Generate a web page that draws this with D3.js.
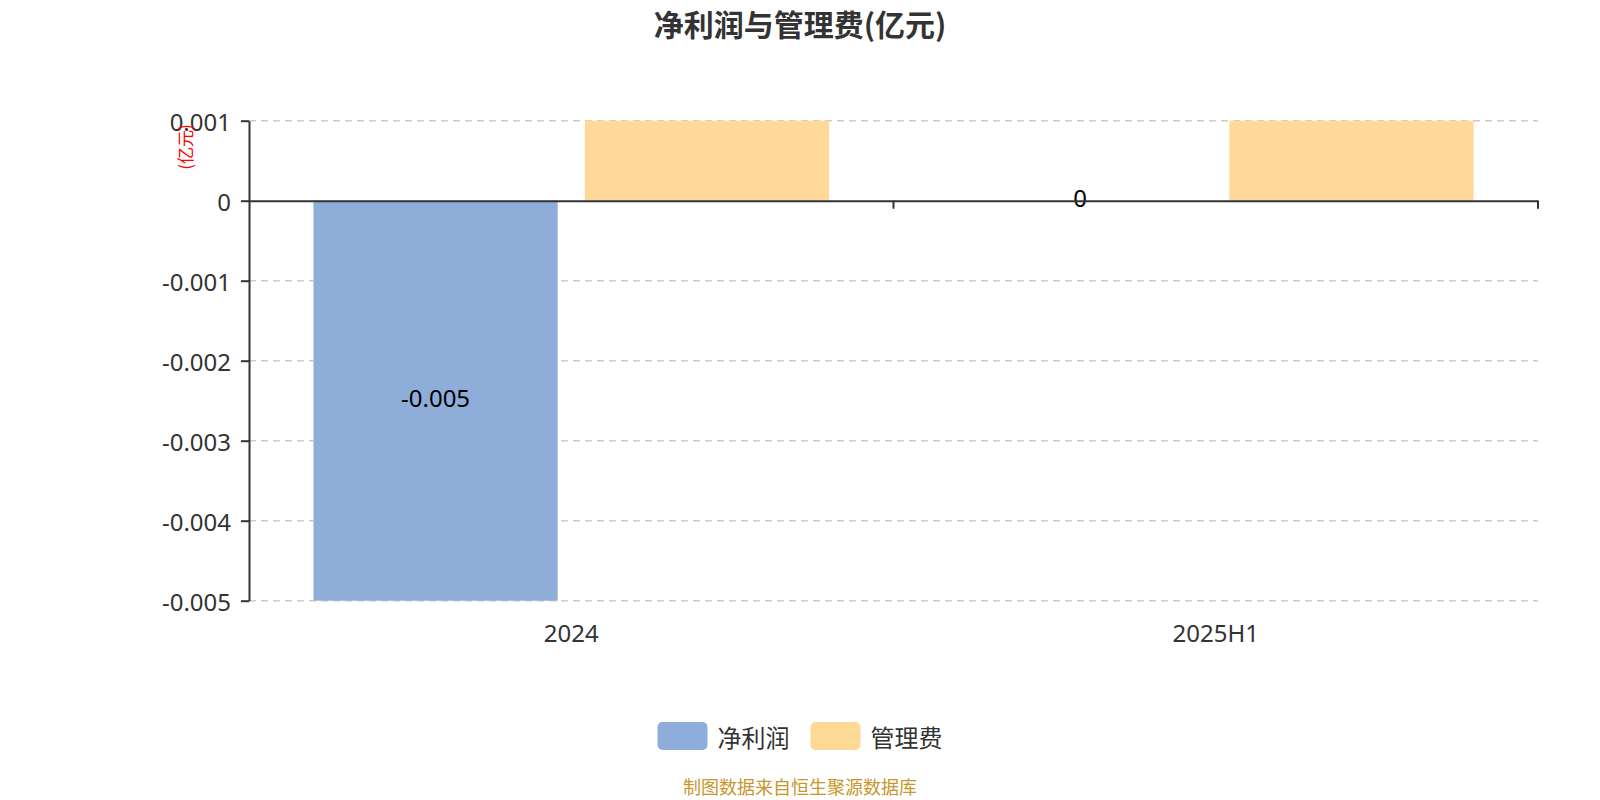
<!DOCTYPE html>
<html>
<head>
<meta charset="utf-8">
<script src="https://cdn.jsdelivr.net/npm/d3@7"></script>
<style>
  body { margin: 0; background: #fff; }
  text { font-family: "Noto Sans", "Noto Sans CJK SC", sans-serif; }
</style>
</head>
<body>
<div id="chart"></div>
<script>
// data
var categories = ["2024", "2025H1"];
var seriesNames = ["净利润", "管理费"];
var netProfit = [-0.005, 0];
var adminFee = [0.001, 0.001];
var yTicks = [0.001, 0, -0.001, -0.002, -0.003, -0.004, -0.005];
var colors = ["#8eaed9", "#fed998"];

var W = 1600, H = 800;
var margin = {left: 249, right: 62, top: 120.7, bottom: 199.3};
var cjk = "\"Noto Sans CJK SC\", sans-serif";

var svg = d3.select("#chart").append("svg")
    .attr("width", W)
    .attr("height", H);

// title
svg.append("text")
    .attr("x", 800).attr("y", 23)
    .attr("text-anchor", "middle")
    .attr("dominant-baseline", "central")
    .style("font-family", cjk)
    .style("font-size", "30px")
    .style("font-weight", "bold")
    .style("fill", "#333")
    .text("净利润与管理费(亿元)");

var x0 = d3.scaleBand()
    .domain(categories)
    .range([margin.left, W - margin.right]);

var x1 = d3.scaleBand()
    .domain(seriesNames)
    .range([x0.bandwidth() * 0.1, x0.bandwidth() * 0.9])
    .paddingInner(0.1);

var y = d3.scaleLinear()
    .domain([-0.005, 0.001])
    .range([H - margin.bottom, margin.top]);

// plain hyphen, not the unicode minus
function fmt(d){ return d === 0 ? "0" : d3.format(".3f")(d).replace("\u2212", "-"); }

// grid lines (dashed), skip zero which is the axis
svg.append("g").selectAll("line")
    .data(yTicks.filter(function(d){ return d !== 0; }))
    .enter().append("line")
    .attr("x1", margin.left).attr("x2", W - margin.right)
    .attr("y1", function(d){ return y(d); })
    .attr("y2", function(d){ return y(d); })
    .attr("stroke", "#ccc")
    .attr("stroke-width", 1.5)
    .attr("stroke-dasharray", "7,5");

// bars
var rows = categories.map(function(c, i){
    return [
        {cat: c, s: seriesNames[0], v: netProfit[i], label: true},
        {cat: c, s: seriesNames[1], v: adminFee[i], label: false}
    ];
});

var groups = svg.append("g").selectAll("g")
    .data(rows)
    .enter().append("g")
    .attr("transform", function(d, i){ return "translate(" + x0(categories[i]) + ",0)"; });

groups.selectAll("rect")
    .data(function(d){ return d; })
    .enter().append("rect")
    .attr("x", function(d){ return x1(d.s); })
    .attr("y", function(d){ return y(Math.max(0, d.v)); })
    .attr("width", x1.bandwidth())
    .attr("height", function(d){ return Math.abs(y(d.v) - y(0)); })
    .attr("fill", function(d, i){ return colors[i]; });

groups.selectAll("text.val")
    .data(function(d){ return d.filter(function(e){ return e.label; }); })
    .enter().append("text")
    .attr("class", "val")
    .attr("x", function(d){ return x1(d.s) + x1.bandwidth() / 2; })
    .attr("y", function(d){ return (y(d.v) + y(0)) / 2 - 3; })
    .attr("text-anchor", "middle")
    .attr("dominant-baseline", "central")
    .style("font-size", "24px")
    .style("fill", "#000")
    .text(function(d){ return fmt(d.v); });

// y axis
var yAxis = svg.append("g")
    .attr("transform", "translate(" + margin.left + ",0)")
    .call(d3.axisLeft(y).tickValues(yTicks).tickSize(8).tickSizeOuter(0).tickFormat(fmt));
yAxis.select(".domain").attr("stroke", "#333").attr("stroke-width", 2);
yAxis.selectAll(".tick line").attr("stroke", "#333").attr("stroke-width", 2);
yAxis.selectAll(".tick text")
    .attr("x", -18)
    .attr("dy", null)
    .attr("dominant-baseline", "central")
    .style("font-size", "24px")
    .style("fill", "#333")
    .style("font-family", "\"Noto Sans\", sans-serif");

// x axis along zero
var xAxis = svg.append("g")
    .attr("transform", "translate(0," + y(0) + ")")
    .call(d3.axisBottom(x0).tickSize(0).tickSizeOuter(0).tickFormat(""));
xAxis.select(".domain").attr("stroke", "#333").attr("stroke-width", 2);
xAxis.selectAll(".tick").remove();

// category boundary ticks
var bounds = categories.map(function(c){ return x0(c) + x0.bandwidth(); });
xAxis.selectAll("line.b")
    .data(bounds)
    .enter().append("line")
    .attr("class", "b")
    .attr("x1", function(d){ return d; }).attr("x2", function(d){ return d; })
    .attr("y1", 0).attr("y2", 8)
    .attr("stroke", "#333").attr("stroke-width", 2);

// category labels under the plot
svg.append("g").selectAll("text")
    .data(categories)
    .enter().append("text")
    .attr("x", function(d){ return x0(d) + x0.bandwidth() / 2; })
    .attr("y", H - margin.bottom + 32)
    .attr("text-anchor", "middle")
    .attr("dominant-baseline", "central")
    .style("font-size", "24px")
    .style("fill", "#333")
    .text(function(d){ return d; });

// y axis name
svg.append("text")
    .attr("transform", "translate(184,147) rotate(-90)")
    .attr("text-anchor", "middle")
    .attr("dominant-baseline", "central")
    .style("font-family", cjk)
    .style("font-size", "17px")
    .style("fill", "red")
    .text("(亿元)");

// legend
var legend = svg.append("g");
var items = legend.selectAll("g")
    .data(seriesNames)
    .enter().append("g");
items.append("rect")
    .attr("width", 50).attr("height", 28)
    .attr("rx", 5).attr("ry", 5)
    .attr("fill", function(d, i){ return colors[i]; });
items.append("text")
    .attr("x", 60).attr("y", 14)
    .attr("dominant-baseline", "central")
    .style("font-family", cjk)
    .style("font-size", "24px")
    .style("fill", "#333")
    .text(function(d){ return d; });
var offs = [], tot = 0;
items.each(function(d, i){
    var w = 60 + this.querySelector("text").getComputedTextLength();
    offs.push(tot);
    tot += w + (i < seriesNames.length - 1 ? 21 : 0);
});
items.attr("transform", function(d, i){ return "translate(" + offs[i] + ",0)"; });
legend.attr("transform", "translate(" + (800 - tot / 2) + ",722)");

// footer
svg.append("text")
    .attr("x", 800).attr("y", 786)
    .attr("text-anchor", "middle")
    .attr("dominant-baseline", "central")
    .style("font-family", cjk)
    .style("font-size", "18px")
    .style("fill", "#c8962a")
    .text("制图数据来自恒生聚源数据库");
</script>
</body>
</html>
